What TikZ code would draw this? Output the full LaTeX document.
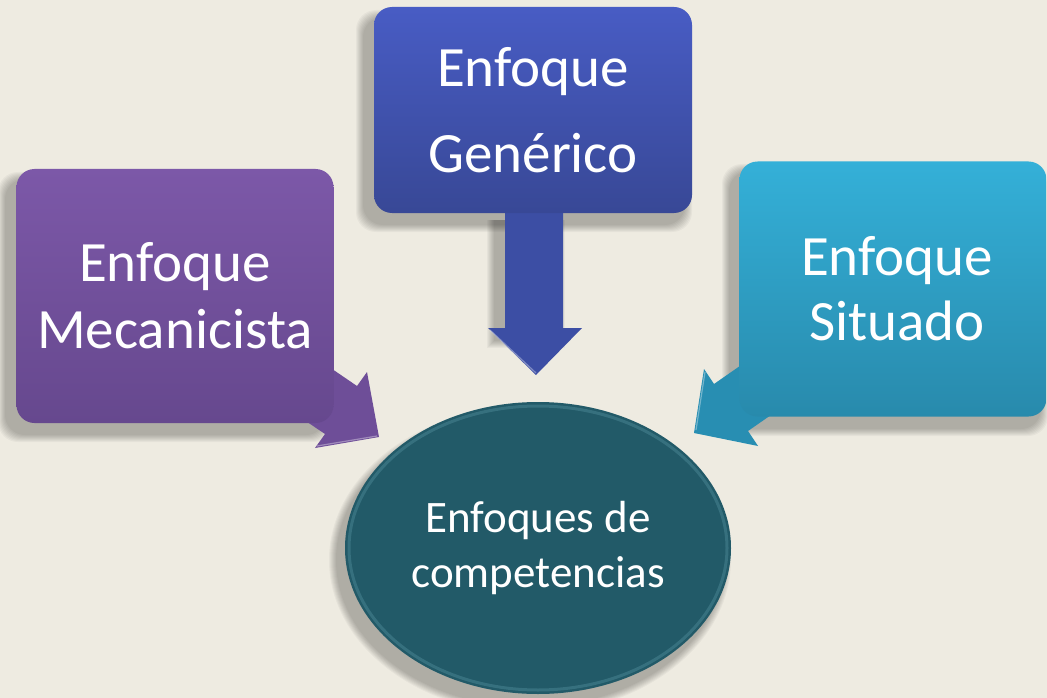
\documentclass[tikz,border=0pt]{standalone}
\usepackage{fontspec}
\setmainfont{Carlito}
\usetikzlibrary{shapes.geometric}
\definecolor{bg}{RGB}{238,235,225}
\definecolor{genTop}{RGB}{72,92,196}
\definecolor{genBot}{RGB}{56,72,150}
\definecolor{genArr}{RGB}{60,78,164}
\definecolor{mecTop}{RGB}{124,88,168}
\definecolor{mecBot}{RGB}{102,72,142}
\definecolor{mecArr}{RGB}{110,78,152}
\definecolor{sitTop}{RGB}{52,176,216}
\definecolor{sitBot}{RGB}{40,138,172}
\definecolor{sitArr}{RGB}{40,142,178}
\definecolor{core}{RGB}{34,90,104}
\definecolor{rim}{RGB}{150,215,230}
\tikzset{
  box/.style={rounded corners=18pt, inner sep=0pt, align=center, text=white,
    font=\fontsize{57}{86}\selectfont},
  shadowlayer/.style={fill=black, opacity=0.035},
}
\begin{document}
\begin{tikzpicture}[x=1pt,y=-1pt]
\useasboundingbox (0,0) rectangle (1047,698);
\fill[bg] (0,0) rectangle (1047,698);
% soft shadows
\foreach \i in {1,...,8}{
  \fill[shadowlayer, rounded corners=20pt] (364-\i,18-\i) rectangle (684+\i,224+\i);
  \fill[shadowlayer] (495-\i,220) rectangle (557+\i,340+\i);
  \fill[shadowlayer, rounded corners=20pt] (6-\i,180-\i) rectangle (325+\i,434+\i);
  \fill[shadowlayer, rounded corners=20pt] (730-\i,172-\i) rectangle (1040+\i,428+\i);
  \fill[shadowlayer] (530,560) ellipse ({193+\i} and {146+\i});
}
% block arrows
\fill[genArr] (505,200) -- (563,200) -- (563,328) -- (582,328) -- (536,375) -- (488,328) -- (505,328) -- cycle;
\fill[mecArr] (275,330) -- (357,386) -- (367,372) -- (379,437) -- (315,448) -- (325,434) -- (242,378) -- cycle;
\fill[sitArr] (796,327) -- (714,384) -- (704,369) -- (694,433) -- (758,446) -- (748,431) -- (830,374) -- cycle;
% arrowhead highlights
\draw[white, opacity=.35, line width=1.2pt] (490,330) -- (536,373);
\draw[white, opacity=.35, line width=1.2pt] (317,446) -- (377,436);
\draw[white, opacity=.35, line width=1.2pt] (705,372) -- (696,430);
% boxes
\node[box, top color=genTop, bottom color=genBot, minimum width=318pt, minimum height=206pt] (gen) at (533,110) {Enfoque\\Genérico};
\node[box, top color=mecTop, bottom color=mecBot, minimum width=317pt, minimum height=254pt, font=\fontsize{57}{67}\selectfont] (mec) at (175,296) {Enfoque\\Mecanicista};
\node[box, top color=sitTop, bottom color=sitBot, minimum width=307pt, minimum height=255pt, font=\fontsize{57}{65}\selectfont] (sit) at (893,289) {\hspace*{8pt}Enfoque\\\hspace*{8pt}Situado};
% central ellipse
\node[ellipse, fill=core, minimum width=386pt, minimum height=292pt, inner sep=0pt,
  text=white, align=center, font=\fontsize{45}{55}\selectfont] (core) at (538,548) {Enfoques de\\competencias};
\draw[rim, opacity=.18, line width=3pt] (538,548) ellipse (189 and 142);
\end{tikzpicture}
\end{document}
